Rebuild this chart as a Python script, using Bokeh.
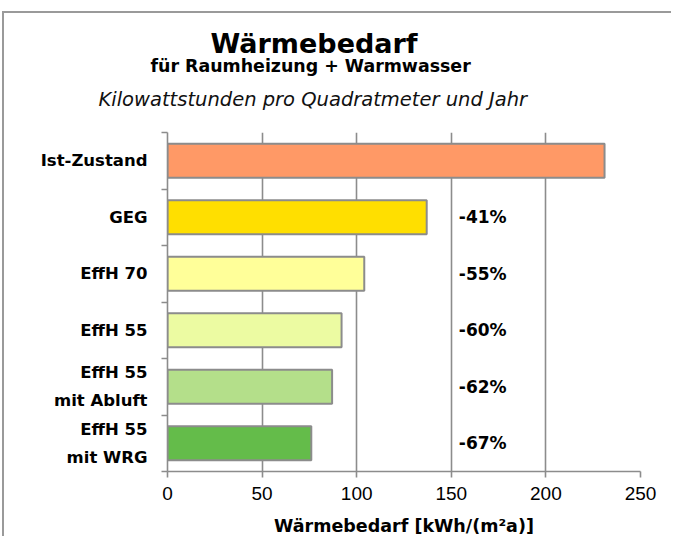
from bokeh.plotting import figure
from bokeh.models import FixedTicker, Range1d, Title, ColumnDataSource
from bokeh.core.properties import value
from bokeh.embed import file_html
from bokeh.resources import INLINE

# ---- data ----
categories = ["Ist-Zustand", "GEG", "EffH 70", "EffH 55", "EffH 55\nmit Abluft", "EffH 55\nmit WRG"]
demand = [231, 137, 104, 92, 87, 76]
pct_labels = ["", "-41%", "-55%", "-60%", "-62%", "-67%"]
bar_colors = ["#FF9966", "#FFDF00", "#FFFF99", "#ECFBA2", "#B4DF8A", "#64BC4A"]
x_ticks = [0, 50, 100, 150, 200, 250]

title_text = "Wärmebedarf"
subtitle_text = "für Raumheizung  + Warmwasser"
unit_text = "Kilowattstunden pro Quadratmeter und Jahr"
x_axis_title = "Wärmebedarf [kWh/(m²a)]"

n = len(categories)
ypos = [n - 1 - i for i in range(n)]  # top to bottom
pct_x = 154

GRAY = "#8c8c8c"
BOLD_FONT = "DejaVu Sans"

src = ColumnDataSource(dict(y=ypos, v=demand, c=bar_colors, pct=pct_labels,
                            px=[pct_x] * n))

p = figure(width=669, height=525,
           x_range=Range1d(0, 250), y_range=Range1d(-0.5, n - 0.5),
           output_backend="svg", toolbar_location=None,
           min_border_left=163, min_border_right=33,
           min_border_top=119, min_border_bottom=67)

p.styles = {"margin-left": "2px", "margin-top": "11px",
            "border-left": "2px solid #9a9a9a", "border-top": "2px solid #9a9a9a"}

p.outline_line_color = None
p.background_fill_color = "white"
p.border_fill_color = "white"

p.hbar(y="y", right="v", left=0, height=0.6, fill_color="c",
       line_color=GRAY, line_width=2, source=src)

p.text(x="px", y="y", text="pct", source=src, text_align="left",
       text_baseline="middle", text_font=value(BOLD_FONT),
       text_font_style="bold", text_font_size="17px", text_color="black")

# grid
p.ygrid.visible = False
p.xgrid.grid_line_color = GRAY
p.xgrid.grid_line_width = 1.6

# x axis
xa = p.xaxis[0]
xa.ticker = FixedTicker(ticks=x_ticks)
xa.major_tick_in = 0
xa.major_tick_out = 6
xa.minor_tick_line_color = None
xa.axis_line_color = GRAY
xa.axis_line_width = 1.6
xa.major_tick_line_color = GRAY
xa.major_tick_line_width = 1.6
xa.major_label_text_font = "Liberation Sans"
xa.major_label_text_font_size = "19px"
xa.major_label_text_color = "black"
xa.major_label_standoff = 9
xa.axis_label = x_axis_title
xa.axis_label_text_font = BOLD_FONT
xa.axis_label_text_font_style = "bold"
xa.axis_label_text_font_size = "17.5px"
xa.axis_label_text_color = "black"
xa.axis_label_standoff = 13

# y axis
ya = p.yaxis[0]
ya.ticker = FixedTicker(ticks=ypos, minor_ticks=[k - 0.5 for k in range(n + 1)])
ya.major_label_overrides = {ypos[i]: categories[i] for i in range(n)}
ya.major_tick_in = 0
ya.major_tick_out = 0
ya.minor_tick_in = 0
ya.minor_tick_out = 6
ya.minor_tick_line_color = GRAY
ya.minor_tick_line_width = 1.6
ya.axis_line_color = GRAY
ya.axis_line_width = 1.6
ya.major_label_text_font = BOLD_FONT
ya.major_label_text_font_style = "bold"
ya.major_label_text_font_size = "16.5px"
ya.major_label_text_color = "black"
ya.major_label_text_line_height = 1.45
ya.major_label_standoff = 14

# titles (first added sits nearest the plot)
p.add_layout(Title(text=unit_text, align="left", offset=-69, standoff=44,
                   text_font="DejaVu Sans", text_font_style="italic",
                   text_font_size="19.5px", text_color="#111111"), "above")
p.add_layout(Title(text=subtitle_text, align="left", offset=-17, standoff=-25,
                   text_font=BOLD_FONT, text_font_style="bold",
                   text_font_size="17.4px", text_color="black"), "above")
p.add_layout(Title(text=title_text, align="left", offset=43, standoff=10,
                   text_font=BOLD_FONT, text_font_style="bold",
                   text_font_size="27px", text_color="black"), "above")

html = file_html(p, INLINE)
html = html.replace("<body>", '<body style="overflow:hidden">', 1)
open("out.html", "w").write(html)
